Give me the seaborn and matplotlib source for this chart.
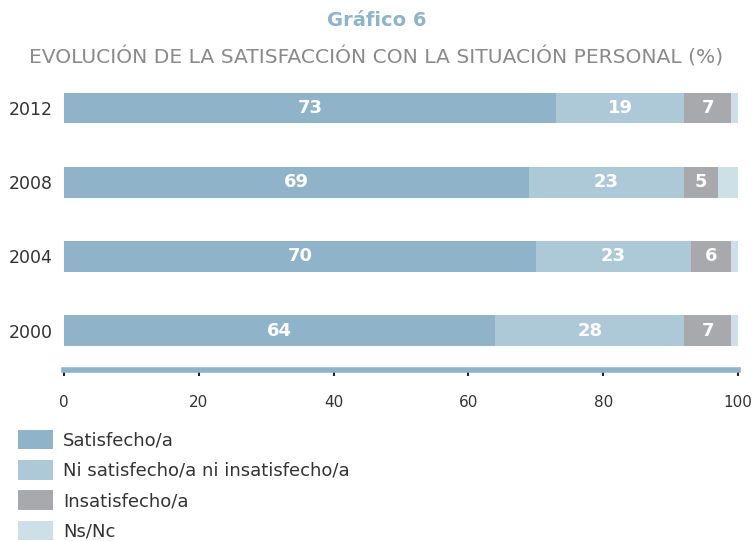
import matplotlib
matplotlib.use("Agg")
import matplotlib.pyplot as plt
import matplotlib.patches as mpatches
import seaborn as sns
import pandas as pd

# data
years = ["2012", "2008", "2004", "2000"]
satisfecho = [73, 69, 70, 64]
ni_ni = [19, 23, 23, 28]
insatisfecho = [7, 5, 6, 7]
ns_nc = [1, 3, 1, 1]
series_names = ["Satisfecho/a", "Ni satisfecho/a ni insatisfecho/a", "Insatisfecho/a", "Ns/Nc"]
colors = ["#8fb3c8", "#adc9d7", "#a7a9ac", "#cddfe7"]
x_ticks = [0, 20, 40, 60, 80, 100]

sns.set_theme(style="white")
plt.rcParams["font.family"] = ["DejaVu Sans"]

df = pd.DataFrame({"year": years, "s1": satisfecho, "s2": ni_ni, "s3": insatisfecho, "s4": ns_nc})
cols = ["s1", "s2", "s3", "s4"]
cum = df[cols].cumsum(axis=1)

fig = plt.figure(figsize=(7.53, 5.41), dpi=100)
ax = fig.add_axes([64 / 753, 1 - 370 / 541, (738 - 64) / 753, (370 - 71) / 541])

# stacked bars: draw cumulative totals from the longest back to the shortest
for i in range(3, -1, -1):
    sns.barplot(x=cum[cols[i]], y=df["year"], orient="h", color=colors[i],
                width=0.41, ax=ax, saturation=1, edgecolor="none")

# labels inside the first three segments
for r in range(len(years)):
    left = 0
    for i in range(3):
        v = df[cols[i]][r]
        ax.text(left + v / 2, r, str(v), ha="center", va="center",
                color="white", fontsize=13, fontweight="bold")
        left += v

ax.set_xlim(0, 100)
ax.set_ylim(3.53, -0.5)
ax.set_xticks(x_ticks)
ax.set_xticklabels([str(t) for t in x_ticks], fontsize=11, color="#333333")
ax.tick_params(axis="x", bottom=True, length=4, width=1.5, color="#222222", pad=14)
ax.tick_params(axis="y", left=False, labelsize=12.5, labelcolor="#333333", pad=2)
ax.set_xlabel("")
ax.set_ylabel("")
for s in ["top", "right", "left"]:
    ax.spines[s].set_visible(False)
ax.spines["bottom"].set_color("#8fb3c8")
ax.spines["bottom"].set_linewidth(4)

fig.text(0.5, 1 - 21 / 541, "Gráfico 6", ha="center", va="center",
         fontsize=14, fontweight="bold", color="#8fb3c8")
fig.text(0.5, 1 - 57 / 541, "EVOLUCIÓN DE LA SATISFACCIÓN CON LA SITUACIÓN PERSONAL (%)",
         ha="center", va="center", fontsize=14.6, color="#8a8a8a")

handles = [mpatches.Patch(facecolor=c, edgecolor="none", label=n) for c, n in zip(colors, series_names)]
fig.legend(handles=handles, loc="upper left", bbox_to_anchor=(5 / 753, 1 - 417 / 541),
           frameon=False, fontsize=13, handlelength=1.95, handleheight=1.3,
           labelspacing=0.58, handletextpad=0.55, labelcolor="#333333",
           borderaxespad=0.3)

fig.savefig("out.png", dpi=100)
